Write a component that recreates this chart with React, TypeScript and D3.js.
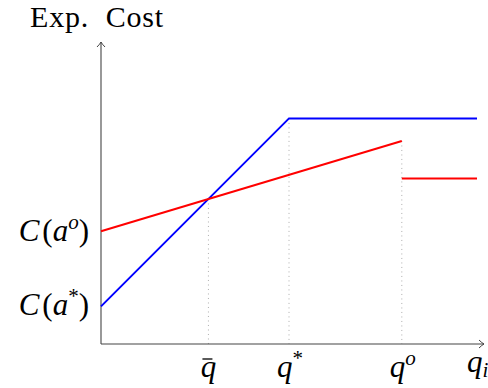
import React from "react";
import * as d3 from "d3";

// x positions (in q units) of the marked points
const qStar = 5;
const qO = 8;
const qEnd = 10;

// expected costs
const costAStar = 1;   // C(a*)
const costAO = 3;      // C(a^o)
const blueMax = 6;
const redAtQO = 5.4;
const redAfter = 4.4;

const bluePts: [number, number][] = [[0, costAStar], [qStar, blueMax], [qEnd, blueMax]];
const redPts: [number, number][] = [[0, costAO], [qO, redAtQO]];
const redFlat: [number, number][] = [[qO, redAfter], [qEnd, redAfter]];

const W = 488, H = 388;

export default function App() {
  const x = d3.scaleLinear().domain([0, qEnd]).range([101, 477]);
  const y = d3.scaleLinear().domain([0, 8]).range([344, 43.2]);
  const line = d3.line<[number, number]>().x(d => x(d[0])).y(d => y(d[1]));

  // intersection of red and blue lines -> q bar
  const redSlope = (redAtQO - costAO) / qO;
  const blueSlope = (blueMax - costAStar) / qStar;
  const qBar = (costAO - costAStar) / (blueSlope - redSlope);
  const yBar = costAStar + blueSlope * qBar;

  const x0 = x(0), y0 = y(0);
  const xAxisEnd = 484, yAxisTop = 42;
  const fs = 31;
  const math = { fontFamily: "'Liberation Serif', serif", fontStyle: "italic" as const, fontSize: fs };
  const sup = 21;
  const dots = [
    [qBar, yBar],
    [qStar, blueMax],
    [qO, redAtQO],
  ];

  return (
    <svg width={W} height={H} style={{ position: "absolute", left: 0, top: 0 }}>
      <rect width={W} height={H} fill="#fff" />
      {dots.map(([q, v], i) => (
        <line key={i} x1={x(q)} x2={x(q)} y1={y(v)} y2={y0}
          stroke="#999" strokeWidth={0.8} strokeDasharray="1 3.5" />
      ))}
      {/* axes */}
      <line x1={x0} x2={xAxisEnd} y1={y0} y2={y0} stroke="#444" strokeWidth={1.1} />
      <line x1={x0} x2={x0} y1={y0} y2={yAxisTop} stroke="#444" strokeWidth={1.1} />
      <path d={`M${xAxisEnd - 5},${y0 - 4} Q${xAxisEnd - 2},${y0 - 1} ${xAxisEnd},${y0} Q${xAxisEnd - 2},${y0 + 1} ${xAxisEnd - 5},${y0 + 4}`}
        fill="none" stroke="#444" strokeWidth={1} />
      <path d={`M${x0 - 4},${yAxisTop + 5} Q${x0 - 1},${yAxisTop + 2} ${x0},${yAxisTop} Q${x0 + 1},${yAxisTop + 2} ${x0 + 4},${yAxisTop + 5}`}
        fill="none" stroke="#444" strokeWidth={1} />

      <path d={line(bluePts) ?? ""} fill="none" stroke="#0000ff" strokeWidth={2} />
      <path d={line(redPts) ?? ""} fill="none" stroke="#ff0000" strokeWidth={2} />
      <path d={line(redFlat) ?? ""} fill="none" stroke="#ff0000" strokeWidth={2} />

      <text x={30} y={27} fontFamily="'Liberation Serif', serif" fontSize={30} letterSpacing={0.8}>Exp.&#160;&#160;Cost</text>

      <text x={89} y={y(costAO) + 10} textAnchor="end" style={math}>
        C<tspan fontStyle="normal" dx={3}>(</tspan>a<tspan dy={-12} fontSize={sup}>o</tspan><tspan dy={12} fontStyle="normal">)</tspan>
      </text>
      <text x={89} y={y(costAStar) + 9} textAnchor="end" style={math}>
        C<tspan fontStyle="normal" dx={3}>(</tspan>a<tspan dy={-12} fontSize={sup} fontStyle="normal">*</tspan><tspan dy={12} fontStyle="normal">)</tspan>
      </text>

      <text x={x(qBar)} y={377} textAnchor="middle" style={math}>q</text>
      <line x1={x(qBar) - 6} x2={x(qBar) + 4} y1={359} y2={359} stroke="#000" strokeWidth={1.3} />
      <text x={x(qStar) + 1} y={377} textAnchor="middle" style={math}>
        q<tspan dy={-12} fontSize={sup} fontStyle="normal">*</tspan>
      </text>
      <text x={x(qO) + 1} y={377} textAnchor="middle" style={math}>
        q<tspan dy={-12} fontSize={sup}>o</tspan>
      </text>
      <text x={467} y={372} style={math}>
        q<tspan dy={5} fontSize={sup}>i</tspan>
      </text>
    </svg>
  );
}
